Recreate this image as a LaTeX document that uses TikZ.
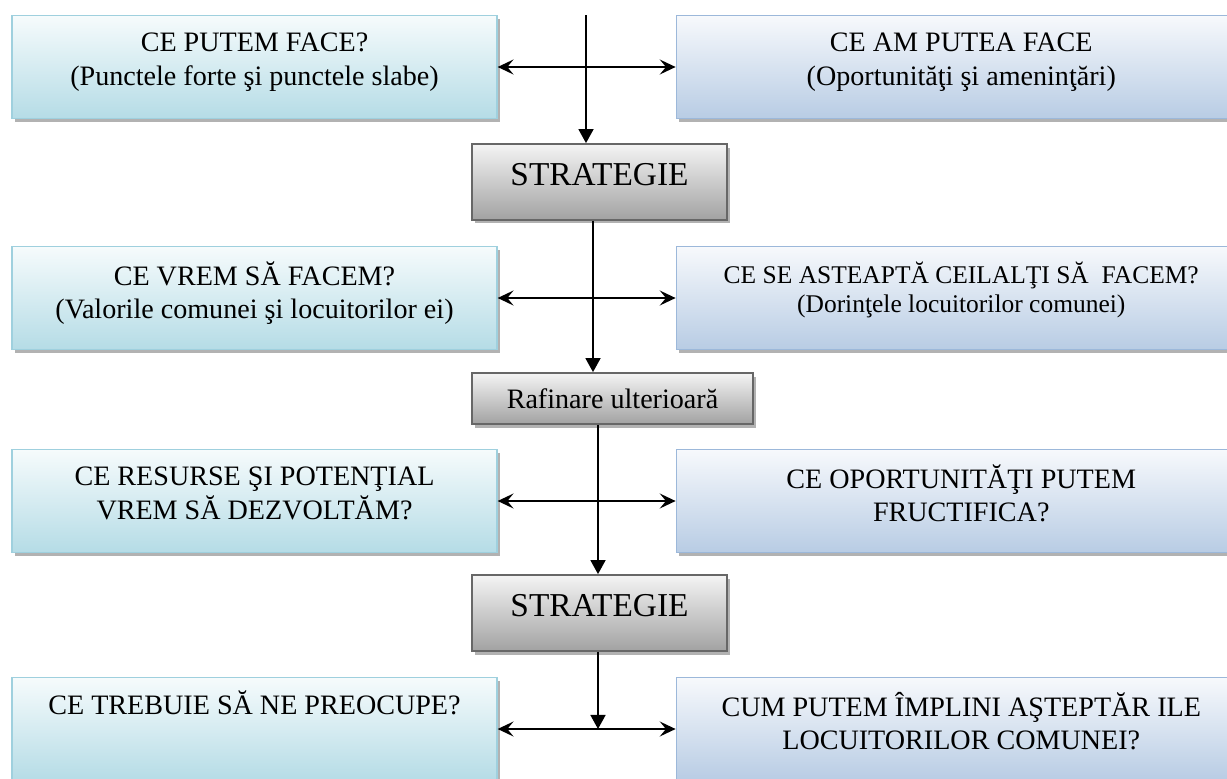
\documentclass[tikz,border=0pt]{standalone}
\usepackage{fontspec}
\setmainfont{Liberation Serif}
\usetikzlibrary{positioning,shadows,arrows.meta}
\definecolor{aquaTop}{HTML}{F6FBFC}
\definecolor{aquaBot}{HTML}{B5DCE6}
\definecolor{aquaEdge}{HTML}{9FD0DE}
\definecolor{blueTop}{HTML}{F7F9FC}
\definecolor{blueBot}{HTML}{B8CCE4}
\definecolor{blueEdge}{HTML}{9CB8DA}
\definecolor{greyTop}{HTML}{F4F4F4}
\definecolor{greyBot}{HTML}{A2A2A2}
\definecolor{greyEdge}{HTML}{676767}
\tikzset{
    node distance=3.56cm, % gap between the two columns
    box/.style={draw, line width=0.8pt, minimum height=2.06cm, align=center,
        font=\fontsize{16}{19}\selectfont, text depth=9pt,
        drop shadow={shadow xshift=0.06cm, shadow yshift=-0.07cm, fill=black, opacity=0.3}},
    lbox/.style={box, minimum width=9.7cm, draw=aquaEdge, top color=aquaTop, bottom color=aquaBot},
    rbox/.style={box, minimum width=11.4cm, draw=blueEdge, top color=blueTop, bottom color=blueBot},
    sbox/.style={draw=greyEdge, line width=1pt, top color=greyTop, bottom color=greyBot,
        font=\fontsize{19}{22}\selectfont, text depth=8.6pt,
        drop shadow={shadow xshift=0.06cm, shadow yshift=-0.07cm, fill=black, opacity=0.3}},
    godown/.style={-{Triangle[length=8pt,width=8.5pt]}, line width=1.1pt},
    twoway/.style={{Stealth[length=9pt,width=8.5pt,inset=3.5pt]}-{Stealth[length=9pt,width=8.5pt,inset=3.5pt]}, line width=1.1pt},
}
\begin{document}
\begin{tikzpicture}[x=0.02cm, y=-0.02cm]
  \clip (0,0) rectangle (1227,778);

  % row 1
  \node[lbox] (l_1) at (254.5,67) {CE PUTEM FACE?\\(Punctele forte şi punctele slabe)};
  \node[rbox] (r_1) [right=of l_1] {CE AM PUTEA FACE\\(Oportunităţi şi ameninţări)};
  \node[sbox, minimum width=5.1cm, minimum height=1.52cm] (s_1) at (599.5,182) {STRATEGIE};

  % row 2
  \node[lbox] (l_2) at (254.5,298) {CE VREM SĂ FACEM?\\(Valorile comunei şi locuitorilor ei)};
  \node[rbox, font=\fontsize{14.5}{16.5}\selectfont, text depth=12.5pt] (r_2) [right=of l_2]
      {CE SE ASTEAPTĂ CEILALŢI SĂ~ FACEM?\\(Dorinţele locuitorilor comunei)};
  \node[sbox, minimum width=5.62cm, minimum height=1.02cm,
      font=\fontsize{16}{19}\selectfont, text depth=0pt] (f_1) at (612.5,398.5) {Rafinare ulterioară};

  % row 3
  \node[lbox] (l_3) at (254.5,501) {CE RESURSE ŞI POTENŢIAL\\VREM SĂ DEZVOLTĂM?};
  \node[rbox] (r_3) [right=of l_3] {CE OPORTUNITĂŢI PUTEM\\FRUCTIFICA?};
  \node[sbox, minimum width=5.1cm, minimum height=1.52cm] (s_2) at (599.5,613) {STRATEGIE};

  % row 4
  \node[lbox, text depth=30pt] (l_4) at (254.5,729) {CE TREBUIE SĂ NE PREOCUPE?};
  \node[rbox] (r_4) [right=of l_4] {CUM PUTEM ÎMPLINI AŞTEPTĂR ILE\\LOCUITORILOR COMUNEI?};

  % spine
  \coordinate (in_0) at (586,15);
  \coordinate (j_1) at ([xshift=-0.13cm]s_1.south);
  \coordinate (j_2) at ([xshift=-0.29cm]f_1.south);
  \coordinate (j_3) at ([xshift=-0.03cm]s_2.south);
  \path[godown]
    (in_0) edge (in_0 |- s_1.north)
    (j_1) edge (j_1 |- f_1.north)
    (j_2) edge (j_2 |- s_2.north)
    (j_3) edge (j_3 |- l_4.east);
  \path[twoway]
    (l_1) edge (r_1)
    (l_2) edge (r_2)
    (l_3) edge (r_3)
    (l_4) edge (r_4);
\end{tikzpicture}
\end{document}
